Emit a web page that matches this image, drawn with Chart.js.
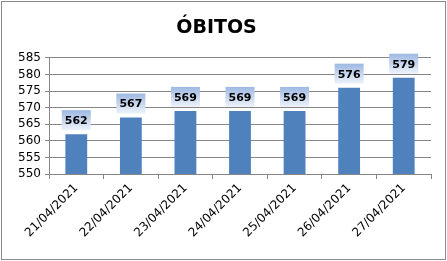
<!DOCTYPE html>
<html lang="pt">
<head>
  <meta charset="UTF-8" />
  <title>Óbitos</title>
  <style>
    html, body { margin: 0; padding: 0; background: #fff; }
    #wrap {
      position: relative;
      margin: 1px;
      width: 445px;
      height: 259px;
      box-sizing: border-box;
      border: 1px solid #8a8a8a;
      background: #fff;
    }
    canvas { display: block; }
  </style>
</head>
<body>
  <div id="wrap">
    <canvas id="chart" width="443" height="257"></canvas>
  </div>

  <script src="https://cdn.jsdelivr.net/npm/chart.js"></script>
  <script>
    const titleText = 'ÓBITOS';
    const dates = ['21/04/2021', '22/04/2021', '23/04/2021', '24/04/2021', '25/04/2021', '26/04/2021', '27/04/2021'];
    const deaths = [562, 567, 569, 569, 569, 576, 579];
    const yMin = 550;
    const yMax = 585;
    const yStep = 5;

    // caixinhas com degradê por cima das barras
    const labelBoxes = {
      id: 'labelBoxes',
      afterDatasetsDraw(chart) {
        const ctx = chart.ctx;
        const meta = chart.getDatasetMeta(0);
        ctx.save();
        ctx.font = 'bold 11px "DejaVu Sans", sans-serif';
        ctx.textAlign = 'center';
        ctx.textBaseline = 'middle';
        meta.data.forEach((bar, i) => {
          const w = 29, h = 20;
          const x = bar.x - w / 2;
          const y = bar.y - 4 - h;
          const g = ctx.createLinearGradient(0, y, 0, y + h);
          g.addColorStop(0, '#9db8e2');
          g.addColorStop(1, '#eef3fb');
          ctx.fillStyle = g;
          ctx.fillRect(x, y, w, h);
          ctx.fillStyle = '#000';
          ctx.fillText(String(deaths[i]), bar.x, y + h / 2 + 1);
        });
        ctx.restore();
      }
    };

    new Chart(document.getElementById('chart'), {
      type: 'bar',
      data: {
        labels: dates,
        datasets: [{
          data: deaths,
          backgroundColor: '#4f81bd',
          barPercentage: 0.4,
          categoryPercentage: 1.0
        }]
      },
      options: {
        responsive: false,
        animation: false,
        layout: { padding: { left: 0, right: 14, top: 0, bottom: 0 } },
        plugins: {
          legend: { display: false },
          tooltip: { enabled: false },
          title: {
            display: true,
            text: titleText,
            color: '#000',
            font: { family: '"DejaVu Sans", sans-serif', size: 19, weight: 'bold' },
            padding: { top: 15, bottom: 18 }
          }
        },
        scales: {
          x: {
            grid: {
              offset: true,
              drawOnChartArea: false,
              drawTicks: true,
              tickLength: 5,
              color: '#868686'
            },
            border: { color: '#868686' },
            ticks: {
              color: '#000',
              font: { family: '"DejaVu Sans", sans-serif', size: 12 },
              minRotation: 45,
              maxRotation: 45,
              padding: 2
            },
            afterFit(scale) { scale.height = 85; }
          },
          y: {
            min: yMin,
            max: yMax,
            grid: { color: '#868686', tickLength: 4 },
            border: { color: '#868686' },
            ticks: {
              stepSize: yStep,
              autoSkip: false,
              color: '#000',
              font: { family: '"DejaVu Sans", sans-serif', size: 12, lineHeight: 1 },
              padding: 4
            },
            afterFit(scale) { scale.width = 47; }
          }
        }
      },
      plugins: [labelBoxes]
    });
  </script>
</body>
</html>
